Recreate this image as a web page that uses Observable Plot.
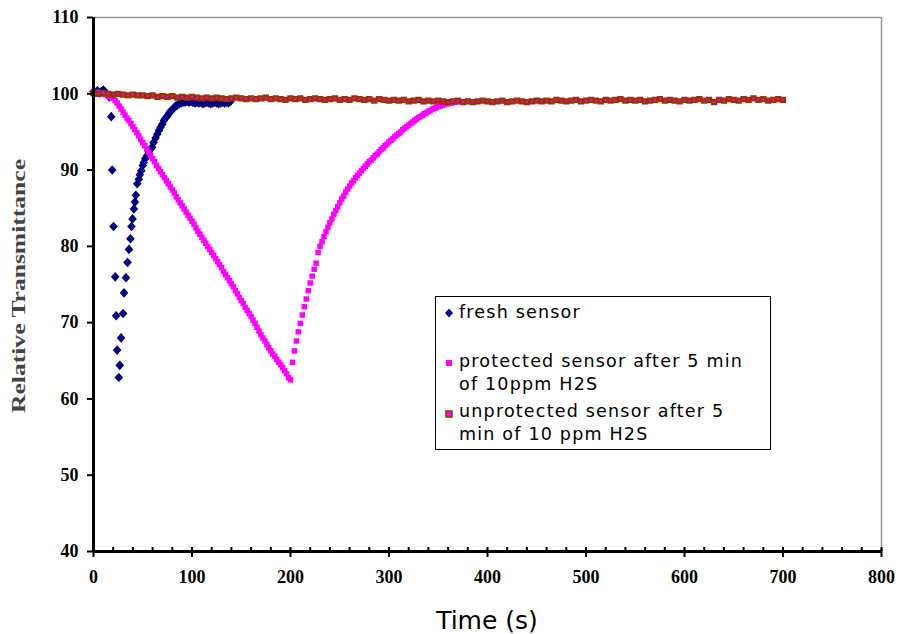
<!DOCTYPE html>
<html>
<head>
<meta charset="utf-8">
<script src="https://cdn.jsdelivr.net/npm/d3@7"></script>
<script src="https://cdn.jsdelivr.net/npm/@observablehq/plot@0.6"></script>
<style>
  html, body { margin: 0; padding: 0; background: #fff; }
  #wrap { position: relative; width: 901px; height: 634px; }
  #legend { position: absolute; left: 435px; top: 296px; width: 336px; height: 154px; box-sizing: border-box;
    border: 1px solid #000; background: #fff; font-family: "DejaVu Sans", Verdana, sans-serif; font-size: 17.5px;
    letter-spacing: 1.2px; color: #000; }
  #legend .row { position: absolute; left: 23px; white-space: nowrap; line-height: 23px; }
  #legend svg { position: absolute; left: 7px; }
</style>
</head>
<body>
<div id="wrap"></div>
<script>
// ---------- data ----------
const seriesNames = ["fresh sensor", "protected sensor after 5 min of 10ppm H2S", "unprotected sensor after 5 min of 10 ppm H2S"];

const freshT = [0,2,4,6,8,10,12,14,16,18,19,20.3,22,23,24,25.7,26.7,28,30,31,33,34.5,36,37.5,38.6,39.6,41,42,43,44.4,46,47,48.5,50,51,52.5,54.5,56,58,59.6,61,63,64.7,66.5,68,69.8,71.5,73,75,76.5,78,80,82,83.5,85,87,89,91,93,95,97,99,101,103,105,107,109,111,113,115,117,119,121,123,125,127,129,131,133,135,137,139];
const freshV = [100.3,100.2,100.4,100.1,100.3,100.5,100.2,99.9,99.6,97.0,90.0,82.6,76.0,70.9,66.4,62.8,64.4,68.0,71.2,73.9,75.9,77.9,79.6,81.0,82.6,83.6,84.9,85.8,86.7,88.2,88.8,89.4,89.9,90.6,91.0,91.5,91.9,92.4,92.8,93.0,93.6,94.2,94.7,95.2,95.6,96.0,96.5,96.8,97.1,97.4,97.7,97.9,98.2,98.4,98.5,98.7,98.8,98.9,98.9,99.0,98.9,99.0,98.9,98.8,98.9,98.8,98.9,98.7,98.8,98.9,98.8,98.7,98.8,98.9,98.8,98.7,98.8,98.9,98.8,98.9,98.8,99.0];

// protected sensor, sampled every 2 s from t = 0
const protStep = 2;
const protV = [100.2,100.1,100.2,100.0,100.1,100.0,99.9,99.9,99.7,99.6,
  99.4,99.1,98.8,98.4,98.0,97.6,97.2,96.8,96.5,96.1,
  95.7,95.3,94.9,94.5,94.0,93.6,93.2,92.8,92.3,91.9,
  91.5,91.1,90.6,90.2,89.8,89.4,89.0,88.6,88.2,87.8,
  87.4,87.0,86.5,86.1,85.7,85.3,84.9,84.5,84.1,83.7,
  83.3,82.9,82.4,82.0,81.6,81.2,80.8,80.4,80.0,79.6,
  79.2,78.8,78.4,78.0,77.6,77.2,76.7,76.3,75.9,75.5,
  75.1,74.7,74.2,73.8,73.3,72.9,72.5,72.0,71.6,71.2,
  70.8,70.3,69.9,69.4,68.9,68.4,68.0,67.6,67.1,66.7,
  66.3,65.9,65.6,65.2,64.8,64.5,64.1,63.7,63.3,62.8,
  62.5,64.8,66.3,67.6,68.8,69.9,71.0,72.1,73.1,74.2,
  75.2,76.1,77.0,77.8,79.2,80.0,80.6,81.3,81.9,82.5,
  83.1,83.6,84.2,84.7,85.2,85.7,86.2,86.6,87.1,87.5,
  87.9,88.3,88.6,89.0,89.3,89.6,89.9,90.2,90.5,90.8,
  91.1,91.3,91.6,91.9,92.1,92.4,92.7,92.9,93.2,93.4,
  93.7,93.9,94.1,94.4,94.6,94.8,95.0,95.3,95.5,95.7,
  95.9,96.1,96.3,96.5,96.7,96.9,97.0,97.2,97.4,97.5,
  97.7,97.8,98.0,98.1,98.2,98.3,98.4,98.5,98.6,98.7,
  98.7,98.8,98.8,98.9,98.9,99.0];

// unprotected sensor, sampled every 5 s from t = 0
const unprotStep = 5;
const unprotV = [100.1,100.0,100.1,100.0,99.9,100.0,99.9,99.8,99.9,99.8,99.8,
  99.7,99.8,99.6,99.7,99.6,99.7,99.5,99.6,99.5,99.6,
  99.5,99.4,99.5,99.4,99.5,99.4,99.3,99.4,99.5,99.4,
  99.3,99.4,99.3,99.4,99.5,99.3,99.4,99.3,99.2,99.4,
  99.3,99.4,99.2,99.3,99.4,99.3,99.2,99.3,99.4,99.2,
  99.3,99.2,99.4,99.3,99.2,99.3,99.1,99.3,99.2,99.1,
  99.2,99.1,99.2,99.0,99.1,99.2,99.0,99.1,99.0,99.1,
  99.0,98.9,99.0,99.1,98.9,99.0,98.9,99.0,99.1,99.0,
  98.9,99.0,99.1,98.9,99.0,99.1,99.0,98.9,99.0,99.1,
  99.0,99.1,99.0,99.2,99.1,99.0,99.1,99.2,99.0,99.1,
  99.2,99.1,99.0,99.2,99.1,99.2,99.3,99.1,99.2,99.1,
  99.2,99.0,99.1,99.2,99.3,99.1,99.2,99.1,99.0,99.2,
  99.1,99.2,99.3,99.1,99.2,98.9,99.2,99.1,99.3,99.2,
  99.1,99.3,99.2,99.4,99.2,99.3,99.1,99.2,99.3,99.2];

const xTicks = [0,100,200,300,400,500,600,700,800];
const xMinorTicks = d3.range(0, 801, 20);
const yTicks = [40,50,60,70,80,90,100,110];
const xLabel = "Time (s)";
const yLabel = "Relative Transmittance";

// ---------- tables ----------
const fresh = freshT.map((t, i) => ({t, v: freshV[i]}));
const prot = protV.map((v, i) => ({t: i * protStep, v}));
const unprot = unprotV.map((v, i) => ({t: i * unprotStep, v}));

const navy = "#000080", magenta = "#ff00ff", brown = "#993300";

const diamond = {
  draw(ctx, size) {
    const h = 4.8, w = 4.3;
    ctx.moveTo(0, -h); ctx.lineTo(w, 0); ctx.lineTo(0, h); ctx.lineTo(-w, 0); ctx.closePath();
  }
};

const serif = "'Liberation Serif', 'Times New Roman', serif";

const chart = Plot.plot({
  width: 901,
  height: 634,
  marginLeft: 93,
  marginRight: 20,
  marginTop: 17,
  marginBottom: 83,
  x: {domain: [0, 800]},
  y: {domain: [40, 110]},
  style: {background: "#fff", overflow: "visible"},
  marks: [
    Plot.ruleY([110], {stroke: "#999", strokeWidth: 1.5}),
    Plot.ruleX([800], {stroke: "#999", strokeWidth: 1.5}),
    Plot.dot(fresh, {x: "t", y: "v", symbol: diamond, fill: navy, stroke: "none", r: 4}),
    Plot.dot(prot, {x: "t", y: "v", symbol: "square", fill: magenta, stroke: "none", r: 3.1}),
    Plot.dot(unprot, {x: "t", y: "v", symbol: "square", fill: magenta, stroke: brown, strokeWidth: 2.2, r: 2.3}),
    Plot.axisX({ticks: xMinorTicks, tickSize: 4, dy: -4, tickFormat: () => "", label: null, stroke: "#000", strokeWidth: 2}),
    Plot.axisX({ticks: xTicks, tickSize: 8, dy: -2, tickPadding: 13, tickFormat: d => String(d), label: null,
      fontSize: 18, fontWeight: "bold", fontFamily: serif, fill: "#000", stroke: "#000", strokeWidth: 2}),
    Plot.axisY({ticks: yTicks, tickSize: 6, tickPadding: 9, label: null,
      fontSize: 18, fontWeight: "bold", fontFamily: serif, fill: "#000", stroke: "#000", strokeWidth: 2}),
    Plot.ruleX([0], {stroke: "#000", strokeWidth: 3}),
    Plot.ruleY([40], {stroke: "#000", strokeWidth: 3})
  ]
});

const wrap = document.getElementById("wrap");
wrap.appendChild(chart);

const svg = d3.select(chart);
svg.append("text")
  .attr("transform", "translate(25,286) rotate(-90)")
  .attr("text-anchor", "middle")
  .attr("font-family", serif)
  .attr("font-weight", "bold")
  .attr("font-size", 19)
  .attr("fill", "#444")
  .attr("textLength", 254)
  .attr("lengthAdjust", "spacingAndGlyphs")
  .text(yLabel);
svg.append("text")
  .attr("x", 487).attr("y", 629)
  .attr("text-anchor", "middle")
  .attr("font-family", "'DejaVu Sans', Verdana, sans-serif")
  .attr("font-size", 25)
  .attr("fill", "#000")
  .text(xLabel);

// ---------- legend ----------
const legend = document.createElement("div");
legend.id = "legend";
legend.innerHTML = `
  <svg width="12" height="12" style="top:10px"><path d="M6,1.5L10,6L6,10.5L2,6Z" fill="${navy}"/></svg>
  <div class="row" style="top:4px">${seriesNames[0]}</div>
  <svg width="12" height="12" style="top:60px"><rect x="3" y="3" width="6" height="6" fill="${magenta}"/></svg>
  <div class="row" style="top:53px">protected sensor after 5 min<br>of 10ppm H2S</div>
  <svg width="12" height="12" style="top:111px"><rect x="3" y="3" width="6" height="6" fill="${magenta}" stroke="${brown}" stroke-width="1.5"/></svg>
  <div class="row" style="top:103px">unprotected sensor after 5<br>min of 10 ppm H2S</div>`;
wrap.appendChild(legend);
</script>
</body>
</html>
